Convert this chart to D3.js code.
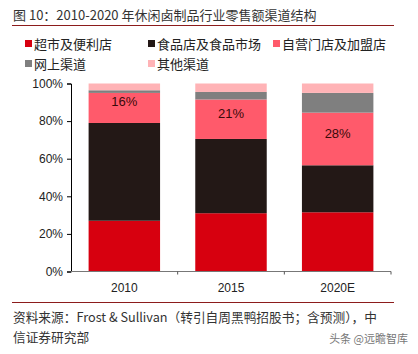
<!DOCTYPE html>
<html>
<head>
<meta charset="utf-8">
<script src="https://cdn.jsdelivr.net/npm/d3@7"></script>
<style>
body { margin:0; background:#fff; }
text { font-family: "Liberation Sans", Arial, "Noto Sans CJK SC", sans-serif; }
</style>
</head>
<body>
<div id="chart"></div>
<script>
// data
var years = ["2010", "2015", "2020E"];
var seriesNames = ["超市及便利店", "食品店及食品市场", "自营门店及加盟店", "网上渠道", "其他渠道"];
var seriesColors = ["#d7000f", "#231816", "#ff5a6b", "#7f7f7f", "#ffb3b6"];
var supermarket = [27, 31, 31.5];
var foodStore = [52, 39.5, 25];
var ownStore = [16, 21, 28];
var online = [1.4, 4, 10.5];
var other = [3.6, 4.5, 5];
var yTicks = [0, 20, 40, 60, 80, 100];

var width = 418, height = 354;
var svg = d3.select('#chart').append('svg')
    .attr('width', width)
    .attr('height', height);

var cjk = '"Noto Sans CJK SC", sans-serif';

// title + rules
svg.append('text').attr('x', 13).attr('y', 20)
    .style('font-family', cjk).style('font-size', '13px').attr('fill', '#333')
    .text('图 10：2010-2020 年休闲卤制品行业零售额渠道结构');
svg.append('line').attr('x1', 12).attr('x2', 394).attr('y1', 25.5).attr('y2', 25.5)
    .attr('stroke', '#8c1c1c').attr('stroke-width', 1);
svg.append('line').attr('x1', 12).attr('x2', 394).attr('y1', 302.5).attr('y2', 302.5)
    .attr('stroke', '#8c1c1c').attr('stroke-width', 1);

// legend
var legendPos = [[25, 44], [148, 44], [273, 44], [25, 64], [148, 64]];
var legend = svg.selectAll('.leg').data(seriesNames).enter().append('g')
    .attr('transform', function (d, i) { return 'translate(' + legendPos[i][0] + ',' + legendPos[i][1] + ')'; });
legend.append('rect').attr('x', 0).attr('y', -4).attr('width', 7).attr('height', 7)
    .attr('fill', function (d, i) { return seriesColors[i]; });
legend.append('text').attr('x', 9).attr('y', 0).attr('dy', '0.35em')
    .style('font-family', cjk).style('font-size', '13px').attr('fill', '#222')
    .text(function (d) { return d; });

// stacked data
var rows = years.map(function (y, i) {
    return { year: y, s0: supermarket[i], s1: foodStore[i], s2: ownStore[i], s3: online[i], s4: other[i] };
});
var keys = ["s0", "s1", "s2", "s3", "s4"];
var stacked = d3.stack().keys(keys)(rows);

var x = d3.scaleBand().domain(years).range([71, 391]).paddingInner(0.33).paddingOuter(0.165);
var y = d3.scaleLinear().domain([0, 100]).range([271.5, 83.5]);

var g = svg.append('g');
g.selectAll('.series').data(stacked).enter().append('g')
    .attr('fill', function (d, i) { return seriesColors[i]; })
    .selectAll('rect').data(function (d) { return d; }).enter().append('rect')
    .attr('x', function (d) { return x(d.data.year); })
    .attr('width', x.bandwidth())
    .attr('y', function (d) { return y(d[1]); })
    .attr('height', function (d) { return y(d[0]) - y(d[1]); });

// labels on own-store segment
g.selectAll('.lbl').data(stacked[2]).enter().append('text')
    .attr('x', function (d) { return x(d.data.year) + x.bandwidth() / 2; })
    .attr('y', function (d) { return (y(d[0]) + y(d[1])) / 2 - 6; })
    .attr('dy', '0.35em').attr('text-anchor', 'middle')
    .style('font-size', '13px').attr('fill', '#3a0a0a')
    .text(function (d) { return Math.round(d[1] - d[0]) + '%'; });

// y axis
var yAxis = d3.axisLeft(y).tickValues(yTicks).tickSize(4).tickPadding(4)
    .tickFormat(function (d) { return d + '%'; });
var ya = svg.append('g').attr('transform', 'translate(71,0)').call(yAxis);
ya.select('.domain').attr('stroke', '#000');
ya.selectAll('line').attr('stroke', '#000');
ya.selectAll('text').style('font-size', '12px').attr('fill', '#222')
    .style('font-family', '"Liberation Sans", Arial, sans-serif');

// x axis
var xa = svg.append('g').attr('transform', 'translate(0,271.5)');
xa.append('line').attr('x1', 71).attr('x2', 391).attr('stroke', '#777').attr('stroke-width', 1.2);
var bounds = years.map(function (d) { return x(d) + x.bandwidth() + x.step() * x.paddingInner() / 2; });
xa.selectAll('.tk').data(bounds).enter().append('line')
    .attr('x1', function (d) { return d; }).attr('x2', function (d) { return d; })
    .attr('y1', 0).attr('y2', 3).attr('stroke', '#555');
xa.selectAll('.xl').data(years).enter().append('text')
    .attr('x', function (d) { return x(d) + x.bandwidth() / 2; })
    .attr('y', 16).attr('dy', '0.35em').attr('text-anchor', 'middle')
    .style('font-size', '12px').attr('fill', '#222')
    .text(function (d) { return d; });

// source
svg.append('text').attr('x', 13).attr('y', 322)
    .style('font-family', cjk).style('font-size', '12.7px').attr('fill', '#333')
    .text('资料来源：Frost & Sullivan（转引自周黑鸭招股书；含预测），中');
svg.append('text').attr('x', 13).attr('y', 342)
    .style('font-family', cjk).style('font-size', '12.7px').attr('fill', '#333')
    .text('信证券研究部');
svg.append('text').attr('x', 408).attr('y', 343).attr('text-anchor', 'end')
    .style('font-family', cjk).style('font-size', '11px').attr('fill', '#777')
    .text('头条 @远瞻智库');
</script>
</body>
</html>
